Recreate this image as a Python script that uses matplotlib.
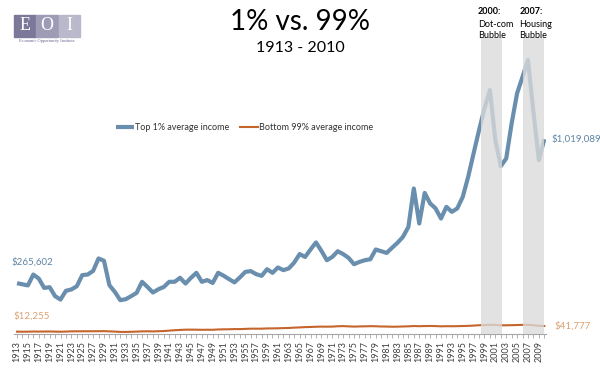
import matplotlib.pyplot as plt
from matplotlib.patches import Rectangle

years = list(range(1913, 2011))
top1 = [265602, 260000, 254000, 311000, 290000, 241000, 245000, 198000, 180000, 226000,
        233000, 250000, 308000, 311000, 330000, 395000, 383000, 255000, 220000, 177000,
        182000, 198000, 215000, 273000, 246000, 217000, 234000, 246000, 273000, 273000,
        294000, 264000, 294000, 320000, 273000, 282000, 267000, 320000, 305000, 287000,
        270000, 296000, 325000, 329000, 313000, 304000, 339000, 320000, 348000, 334000,
        343000, 374000, 418000, 403000, 442000, 479000, 435000, 386000, 403000, 433000,
        418000, 398000, 365000, 377000, 386000, 391000, 442000, 433000, 424000, 451000,
        477000, 508000, 560000, 761000, 578000, 738000, 683000, 657000, 604000, 665000,
        639000, 657000, 717000, 822000, 945000, 1066000, 1180000, 1276000, 1014000, 878000,
        918000, 1102000, 1259000, 1345000, 1433000, 1162000, 909000, 1019089]
bottom99 = [12255, 11900, 12100, 13000, 12600, 13000, 13200, 12500, 11800, 12800,
            13900, 14000, 14200, 14300, 14500, 14600, 15000, 13800, 12600, 11000,
            10800, 11600, 12500, 13800, 14200, 13400, 14500, 15400, 17600, 19800,
            21300, 22500, 22800, 22500, 21900, 22300, 22100, 23700, 24400, 24800,
            25700, 25600, 26800, 27900, 27900, 27900, 29100, 29400, 29800, 30900,
            31600, 33200, 34500, 36000, 36800, 38000, 38600, 38300, 38700, 40500,
            41300, 39900, 38700, 39600, 40100, 40900, 40500, 39200, 38900, 38000,
            38300, 39400, 40100, 41700, 40800, 41600, 41900, 41400, 40200, 40800,
            40600, 41000, 41700, 42600, 44000, 45800, 46900, 48200, 47200, 45700,
            45500, 46200, 46900, 47700, 48200, 46000, 42800, 41777]
bubbles = [(1998.45, 2002.3, '2000:', 'Dot-com\nBubble'),
           (2006.1, 2009.9, '2007:', 'Housing\nBubble')]

W, H = 600, 375
plt.rcParams['font.family'] = ['Lato', 'DejaVu Sans']
fig = plt.figure(figsize=(6, 3.75), dpi=100, facecolor='white')

def fx(px):
    return px / W

def fy(py):
    return 1 - py / H

ax = fig.add_axes([fx(14.3), fy(334), fx(531.6), 297.3 / H])
ax.plot(years, top1, color='#6a8fae', lw=3, solid_capstyle='butt', solid_joinstyle='round',
        label='Top 1% average income', zorder=2)
ax.plot(years, bottom99, color='#c4652b', lw=1.5, label='Bottom 99% average income', zorder=2)
for x0, x1, yr, name in bubbles:
    ax.axvspan(x0, x1, color='#dbdbdb', alpha=0.78, lw=0, zorder=3)

ax.set_xlim(1912.5, 2010.3)
ax.set_ylim(0, 1555000)
for s in ['top', 'right', 'left']:
    ax.spines[s].set_visible(False)
ax.spines['bottom'].set_color('#a6a6a6')
ax.set_yticks([])
ax.set_xticks(years)
ax.set_xticklabels([str(y) if y % 2 == 1 else '' for y in years], rotation=90,
                   fontsize=6.5, color='#404040')
ax.tick_params(axis='x', length=3, width=0.6, color='#a6a6a6', pad=2)

ax.legend(loc='center left', bbox_to_anchor=(fx(108), fy(128)), bbox_transform=fig.transFigure,
          ncol=2, frameon=False, fontsize=6.5, handlelength=2.0, handletextpad=0.1,
          columnspacing=1.2, labelcolor='#333333')

# end labels
fig.text(fx(11), fy(262), '$265,602', color='#5f84a2', fontsize=7, va='center')
fig.text(fx(13), fy(316), '$12,255', color='#dba072', fontsize=7, va='center')
fig.text(fx(551), fy(139), '$1,019,089', color='#5f84a2', fontsize=7, va='center')
fig.text(fx(554), fy(326), '$41,777', color='#dba072', fontsize=7, va='center')

# bubble notes
for x0, x1, yr, name in bubbles:
    px = 17 + 5.44 * (x0 - 1913) - 4
    fig.text(fx(px), fy(12), yr, fontsize=6.5, fontweight='bold', va='center')
    fig.text(fx(px), fy(30), name, fontsize=6.5, va='center', linespacing=1.35)

# titles
fig.text(0.5, fy(22), '1% vs. 99%', fontsize=20, ha='center', va='center')
fig.text(0.5, fy(48), '1913 - 2010', fontsize=11.5, ha='center', va='center')

# logo
for i, (ch, col) in enumerate(zip('EOI', ['#7c7899', '#9e9bb6', '#bab8cb'])):
    x = 14 + i * 22.3
    fig.patches.append(Rectangle((fx(x), fy(37)), fx(21.5), 22 / H, color=col,
                                 transform=fig.transFigure, figure=fig))
    fig.text(fx(x + 10.75), fy(26), ch, color='white', fontsize=13, ha='center', va='center',
             family='Liberation Serif')
fig.text(fx(47), fy(41), 'Economic Opportunity Institute', color='#6a6690', fontsize=3.2,
         ha='center', va='center', family='Liberation Serif')

fig.savefig('out.png', dpi=100, facecolor='white')
